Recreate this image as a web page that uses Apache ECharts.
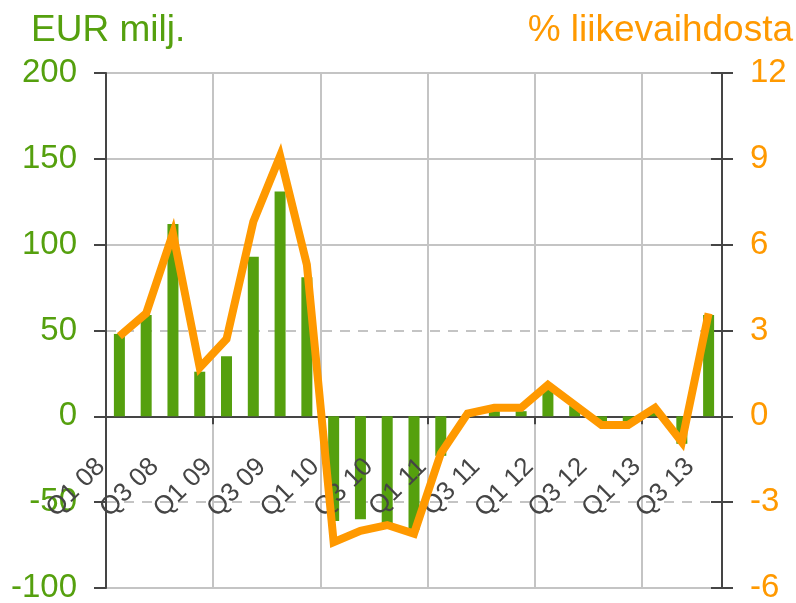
<!DOCTYPE html>
<html>
<head>
<meta charset="utf-8">
<script src="https://cdn.jsdelivr.net/npm/echarts@6/dist/echarts.min.js"></script>
<style>
  html, body { margin: 0; padding: 0; background: #fff; }
  #chart { width: 796px; height: 603px; }
</style>
</head>
<body>
<div id="chart"></div>
<script>
// Quarterly periods, Q1 2008 – Q3 2013
const quarters = [
  'Q1 08', 'Q2 08', 'Q3 08', 'Q4 08',
  'Q1 09', 'Q2 09', 'Q3 09', 'Q4 09',
  'Q1 10', 'Q2 10', 'Q3 10', 'Q4 10',
  'Q1 11', 'Q2 11', 'Q3 11', 'Q4 11',
  'Q1 12', 'Q2 12', 'Q3 12', 'Q4 12',
  'Q1 13', 'Q2 13', 'Q3 13'
];

// Result, EUR million (bars, left axis)
const eurMillions = [
  48, 59, 112, 26,
  35, 93, 131, 81,
  -61, -60, -63, -66,
  -23, 1, 3, 3,
  16, 6, -3, -3,
  2, -16, 59
];

// Result as % of net sales (line, right axis)
const percentOfSales = [
  2.8, 3.6, 6.4, 1.7,
  2.7, 6.8, 9.1, 5.3,
  -4.4, -4.0, -3.8, -4.1,
  -1.3, 0.1, 0.3, 0.3,
  1.1, 0.4, -0.3, -0.3,
  0.3, -0.9, 3.6
];

const GREEN = '#55a00e';
const ORANGE = '#ff9900';
const DARK = '#454545';
const GRID = '#c4c4c4';
const FONT = '"Liberation Sans", Arial, sans-serif';
const NONE = 'rgba(0,0,0,0)';

// plot area edges (px) and the zero level of the left axis
const PLOT_TOP = 73;
const PLOT_BOTTOM = 15;
const LEFT_MIN = -100, LEFT_MAX = 200;
const PLOT_H = 603 - PLOT_TOP - PLOT_BOTTOM;
const zeroLift = PLOT_H * (0 - LEFT_MIN) / (LEFT_MAX - LEFT_MIN);

const chart = echarts.init(document.getElementById('chart'));

chart.setOption({
  animation: false,
  backgroundColor: '#fff',
  textStyle: { fontFamily: FONT },
  title: [
    {
      text: 'EUR milj.',
      left: 26, top: 7,
      textStyle: { color: GREEN, fontSize: 37, fontWeight: 'normal', fontFamily: FONT }
    },
    {
      text: '% liikevaihdosta',
      right: -2, top: 7,
      textStyle: { color: ORANGE, fontSize: 37, fontWeight: 'normal', fontFamily: FONT }
    }
  ],
  grid: { left: 106, right: 74, top: PLOT_TOP, bottom: PLOT_BOTTOM, containLabel: false, outerBoundsMode: 'none' },
  xAxis: [
    {
      // category axis drawn along the zero line
      type: 'category',
      data: quarters,
      boundaryGap: true,
      axisLine: { show: true, onZero: true, onZeroAxisIndex: 0, lineStyle: { color: DARK, width: 2 } },
      axisTick: { show: true, interval: 3, length: 8, lineStyle: { color: DARK, width: 2 } },
      splitLine: { show: true, interval: 3, lineStyle: { color: GRID, width: 2 } },
      axisLabel: { show: false }
    },
    {
      // quarter labels, lifted to sit just under the zero line
      type: 'category',
      data: quarters,
      boundaryGap: true,
      position: 'bottom',
      offset: -zeroLift,
      z: 3,
      axisLine: { show: false },
      axisTick: { show: false },
      splitLine: { show: false },
      axisLabel: {
        interval: 1,
        rotate: 45,
        margin: 28,
        padding: [0, 26, 0, 0],
        color: DARK,
        fontSize: 26,
        fontFamily: FONT
      }
    }
  ],
  yAxis: [
    {
      // left axis: EUR million
      type: 'value',
      position: 'left',
      min: LEFT_MIN, max: LEFT_MAX, interval: 50,
      axisLine: { show: true, lineStyle: { color: DARK, width: 2 } },
      axisTick: { show: true, inside: false, length: 12, lineStyle: { color: DARK, width: 2 } },
      axisLabel: { color: GREEN, fontSize: 33, margin: 29, fontFamily: FONT },
      splitLine: {
        show: true,
        lineStyle: { color: [GRID, NONE, NONE, NONE, GRID, GRID, GRID], width: 2 }
      }
    },
    {
      // right axis: % of net sales
      type: 'value',
      position: 'right',
      min: -6, max: 12, interval: 3,
      axisLine: { show: true, lineStyle: { color: DARK, width: 2 } },
      axisTick: { show: true, inside: false, length: 11, lineStyle: { color: DARK, width: 2 } },
      axisLabel: { color: ORANGE, fontSize: 33, margin: 28, fontFamily: FONT },
      splitLine: { show: false }
    },
    {
      // inner ticks on the right axis plus the dashed half-step grid lines
      type: 'value',
      position: 'right',
      min: -6, max: 12, interval: 3,
      axisLine: { show: true, lineStyle: { color: DARK, width: 2 } },
      axisTick: { show: true, inside: true, length: 11, lineStyle: { color: DARK, width: 2 } },
      axisLabel: { show: false },
      splitLine: {
        show: true,
        lineStyle: { color: [NONE, GRID, NONE, GRID, NONE, NONE, NONE], width: 2, type: [10, 8] }
      }
    }
  ],
  series: [
    {
      name: 'EUR milj.',
      type: 'bar',
      xAxisIndex: 0,
      yAxisIndex: 0,
      data: eurMillions,
      barWidth: 11,
      itemStyle: { color: GREEN },
      z: 2
    },
    {
      name: '% liikevaihdosta',
      type: 'line',
      xAxisIndex: 0,
      yAxisIndex: 1,
      data: percentOfSales,
      showSymbol: false,
      symbol: 'none',
      lineStyle: { color: ORANGE, width: 8, join: 'miter' },
      z: 5
    }
  ]
});
</script>
</body>
</html>
